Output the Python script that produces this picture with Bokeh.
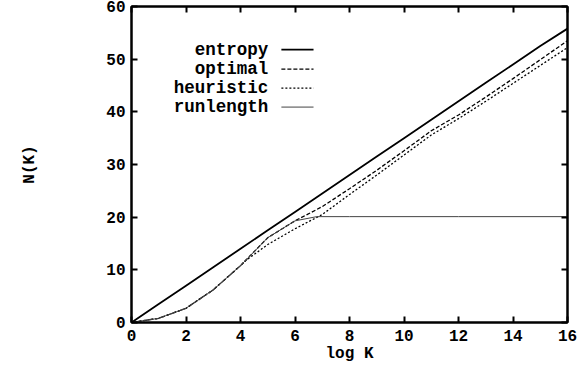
from bokeh.plotting import figure
from bokeh.models import Range1d, LinearAxis, FixedTicker, Label, CustomLabelingPolicy
from bokeh.embed import file_html
from bokeh.resources import INLINE

# ---- data ----
logk = list(range(0, 17))
entropy = [0, 3.5, 7, 10.5, 14, 17.5, 21, 24.5, 28, 31.5, 35, 38.5, 42, 45.5, 49, 52.5, 55.8]
optimal = [0, 0.8, 2.7, 6.2, 10.8, 16.1, 19.3, 22.0, 25.4, 28.9, 32.6, 36.4, 39.4, 42.8, 46.3, 49.9, 53.5]
heur_x = [0, 1, 2, 3, 4, 4.2, 5, 6, 7, 8, 9, 10, 11, 12, 13, 14, 15, 16]
heuristic = [0, 0.8, 2.7, 6.2, 10.8, 11.8, 14.8, 17.8, 20.5, 24.3, 28.0, 31.8, 35.6, 38.7, 42.0, 45.4, 48.8, 52.2]
run_x = [0, 1, 2, 3, 4, 5, 6, 6.8, 8, 10, 12, 14, 16]
runlength = [0, 0.8, 2.7, 6.2, 10.8, 16.1, 19.3, 20.1, 20.1, 20.1, 20.1, 20.1, 20.1]
x_ticks = [0, 2, 4, 6, 8, 10, 12, 14, 16]
y_ticks = [0, 10, 20, 30, 40, 50, 60]
series_names = ["entropy", "optimal", "heuristic", "runlength"]

FONT = "Liberation Mono"

p = figure(width=580, height=366, output_backend="svg", toolbar_location=None,
           x_range=Range1d(0, 16), y_range=Range1d(0, 60),
           min_border_left=131, min_border_right=13, min_border_top=6, min_border_bottom=44,
           x_axis_label="log K", y_axis_label="N(K)")
p.background_fill_color = "white"
p.border_fill_color = "white"
p.grid.visible = False
p.outline_line_color = "black"
p.outline_line_width = 2

no_labels = CustomLabelingPolicy(code="return []")

def style_axis(ax, ticks, labels=True):
    ax.ticker = FixedTicker(ticks=ticks)
    ax.axis_line_color = "black"
    ax.axis_line_width = 2
    ax.major_tick_in = 6
    ax.major_tick_out = 0
    ax.major_tick_line_width = 2
    ax.minor_tick_in = 0
    ax.minor_tick_out = 0
    ax.major_label_text_font = FONT
    ax.major_label_text_font_style = "bold"
    ax.major_label_text_color = "black"
    if labels:
        ax.major_label_text_font_size = "16px"
    else:
        ax.major_label_text_font_size = "0px"
        ax.major_label_policy = no_labels
        ax.major_label_standoff = 0

style_axis(p.xaxis[0], x_ticks)
style_axis(p.yaxis[0], y_ticks)
p.xaxis[0].major_label_standoff = 7
p.yaxis[0].major_label_standoff = 6
for ax in (p.xaxis[0], p.yaxis[0]):
    ax.axis_label_text_font = FONT
    ax.axis_label_text_font_style = "bold"
    ax.axis_label_text_font_size = "16px"
    ax.axis_label_text_color = "black"
p.xaxis[0].axis_label_standoff = 1
p.yaxis[0].axis_label_standoff = 64

top_ax = LinearAxis()
style_axis(top_ax, x_ticks, labels=False)
p.add_layout(top_ax, "above")
right_ax = LinearAxis()
style_axis(right_ax, y_ticks, labels=False)
p.add_layout(right_ax, "right")

# ---- series ----
p.line(logk, entropy, line_color="black", line_width=1.8)
p.line(logk, optimal, line_color="black", line_width=1.3, line_dash="4 2")
p.line(heur_x, heuristic, line_color="black", line_width=1.3, line_dash="2 2")
p.line(run_x, runlength, line_color="#444444", line_width=1.0)

# ---- legend (text left of sample) ----
leg_y = [51.8, 48.1, 44.5, 40.9]
styles = [dict(line_color="black", line_width=1.8),
          dict(line_color="black", line_width=1.3, line_dash="4 2"),
          dict(line_color="black", line_width=1.3, line_dash="2 2"),
          dict(line_color="#444444", line_width=1.0)]
for name, yy, st in zip(series_names, leg_y, styles):
    p.add_layout(Label(x=5.02, y=yy, text=name, text_align="right", text_baseline="middle",
                       text_font=FONT, text_font_style="bold", text_font_size="17.5px",
                       text_color="black"))
    p.line([5.5, 6.68], [yy, yy], **st)

open("out.html", "w").write(file_html(p, INLINE))
